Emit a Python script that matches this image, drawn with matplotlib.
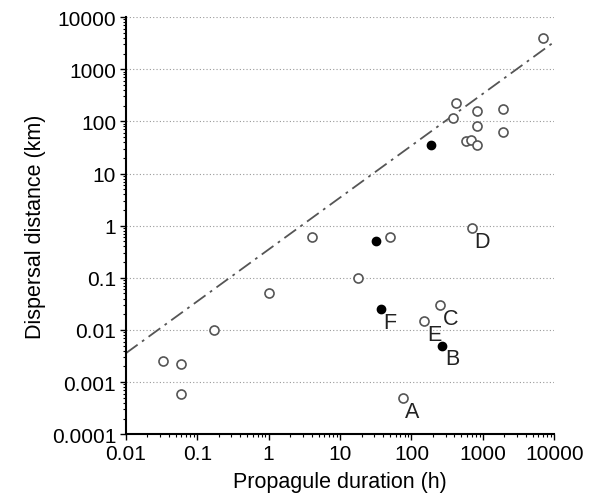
import matplotlib.pyplot as plt
import numpy as np

plt.rcParams['font.family'] = ['Liberation Sans', 'DejaVu Sans']

# open circles (propagule duration h, dispersal distance km)
open_x = [0.033, 0.06, 0.06, 0.17, 1, 4, 18, 50, 75, 150, 250, 700,
          380, 420, 580, 680, 820, 820, 820, 1900, 1900, 7000]
open_y = [0.0025, 0.0022, 0.0006, 0.01, 0.05, 0.6, 0.1, 0.6, 0.0005, 0.015, 0.03, 0.9,
          115, 230, 42, 44, 35, 160, 82, 170, 63, 4000]

# filled circles
filled_x = [32, 37, 270, 190]
filled_y = [0.5, 0.025, 0.005, 35]

# labelled points
labels = ['A', 'B', 'C', 'D', 'E', 'F']
label_x = [75, 270, 250, 700, 150, 37]
label_y = [0.0005, 0.005, 0.03, 0.9, 0.015, 0.025]

# fitted line: y = a * x^b
fit_a = 0.35
fit_b = 0.995

fig = plt.figure(figsize=(5.94, 5.02), dpi=100)
ax = fig.add_axes([0.212, 0.133, 0.721, 0.831])

ax.set_xscale('log')
ax.set_yscale('log')
ax.set_xlim(0.01, 10000)
ax.set_ylim(0.0001, 10000)

for yv in [0.001, 0.01, 0.1, 1, 10, 100, 1000, 10000]:
    ax.axhline(yv, color='#999999', lw=0.8, ls=(0, (1, 2)), zorder=0)

xs = np.array([0.01, 10000])
ax.plot(xs, fit_a * xs ** fit_b, color='#555555', lw=1.3,
        ls=(0, (8, 3, 1.5, 3)), zorder=1)

ax.plot(open_x, open_y, 'o', ms=6.5, mfc='white', mec='#555555', mew=1.2,
        zorder=3, clip_on=False)
ax.plot(filled_x, filled_y, 'o', ms=6, mfc='black', mec='black', zorder=3)

for lab, lx, ly in zip(labels, label_x, label_y):
    ax.annotate(lab, (lx, ly), xytext=(2, -2), textcoords='offset points',
                ha='left', va='top', fontsize=15.5, color='#222222')

ax.set_xticks([0.01, 0.1, 1, 10, 100, 1000, 10000])
ax.set_xticklabels(['0.01', '0.1', '1', '10', '100', '1000', '10000'])
ax.set_yticks([0.0001, 0.001, 0.01, 0.1, 1, 10, 100, 1000, 10000])
ax.set_yticklabels(['0.0001', '0.001', '0.01', '0.1', '1', '10', '100', '1000', '10000'])

ax.spines['top'].set_visible(False)
ax.spines['right'].set_visible(False)
ax.spines['left'].set_linewidth(1.5)
ax.spines['bottom'].set_linewidth(1.5)
ax.tick_params(axis='both', which='major', labelsize=15, length=4, width=1, pad=3)
ax.tick_params(axis='both', which='minor', length=2, width=0.8)

ax.set_xlabel('Propagule duration (h)', fontsize=15.5, labelpad=6)
ax.set_ylabel('Dispersal distance (km)', fontsize=15.5, labelpad=4)

plt.savefig('out.png', dpi=100)
